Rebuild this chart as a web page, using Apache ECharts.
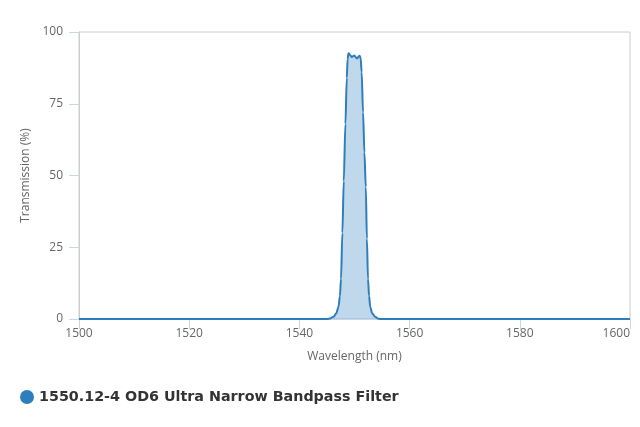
<!DOCTYPE html>
<html><head><meta charset="utf-8">
<script src="https://cdn.jsdelivr.net/npm/echarts@6/dist/echarts.min.js"></script>
<style>html,body{margin:0;padding:0;background:#fff}#c{width:640px;height:427px}</style>
</head><body><div id="c"></div>
<script>
var seriesName = '1550.12-4 OD6 Ultra Narrow Bandpass Filter';
var wavelengths = [1500, 1544, 1545, 1545.6, 1546.2, 1546.7, 1547.1, 1547.35, 1547.55, 1547.8, 1548.05, 1548.35, 1548.6, 1548.75, 1548.9, 1549.2, 1549.5, 1549.95, 1550.45, 1550.9, 1551.1, 1551.3, 1551.55, 1551.8, 1552.05, 1552.25, 1552.45, 1552.65, 1552.85, 1553.2, 1553.75, 1554.2, 1554.7, 1600];
var transmission = [0, 0, 0, 0.2, 0.8, 2, 4.3, 8, 14, 30, 48, 68, 84, 90.5, 92.6, 92.0, 91.3, 91.8, 90.8, 91.7, 91.2, 86, 72, 58, 46, 28, 14, 8, 4.3, 2, 0.8, 0.2, 0, 0];
var xTicks = [1500, 1520, 1540, 1560, 1580, 1600];
var yTicks = [0, 25, 50, 75, 100];

var data = wavelengths.map(function (w, i) { return [w, transmission[i]]; });
var chart = echarts.init(document.getElementById('c'));
chart.setOption({
  animation: false,
  textStyle: { fontFamily: 'Open Sans' },
  grid: { left: 79, right: 10, top: 32, bottom: 108, show: true, borderColor: '#cccccc', borderWidth: 1, backgroundColor: 'transparent' },
  legend: {
    left: 15, top: 385, icon: 'circle', itemWidth: 14, itemHeight: 14, itemGap: 6,
    textStyle: { fontFamily: 'DejaVu Sans', fontWeight: 'bold', fontSize: 14.3, color: '#333333' },
    data: [seriesName]
  },
  xAxis: {
    type: 'value', min: xTicks[0], max: xTicks[xTicks.length - 1], interval: 20,
    name: 'Wavelength (nm)', nameLocation: 'middle', nameGap: 32,
    nameTextStyle: { color: '#666666', fontSize: 12 },
    axisLine: { show: true, lineStyle: { color: '#ccd6eb' } },
    axisTick: { show: true, length: 10, lineStyle: { color: '#ccd6eb' } },
    axisLabel: { color: '#666666', fontSize: 12, margin: 9,
      formatter: function (v) { return xTicks.indexOf(v) >= 0 ? String(v) : ''; },
      alignMaxLabel: 'right' },
    splitLine: { show: false }
  },
  yAxis: {
    type: 'value', min: yTicks[0], max: yTicks[yTicks.length - 1], interval: 25,
    name: 'Transmission (%)', nameLocation: 'middle', nameGap: 45, nameRotate: 90,
    nameTextStyle: { color: '#666666', fontSize: 12 },
    axisLine: { show: true, lineStyle: { color: '#cccccc' } },
    axisTick: { show: true, length: 10, lineStyle: { color: '#ccd6eb' } },
    axisLabel: { color: '#666666', fontSize: 12, margin: 16 },
    splitLine: { show: false }
  },
  series: [{
    name: seriesName, type: 'line', data: data, showSymbol: false, symbol: 'circle',
    smooth: 0.3, smoothMonotone: 'x',
    itemStyle: { color: '#2f7ebc' },
    lineStyle: { color: '#2f7ebc', width: 2 },
    areaStyle: { color: '#2f7ebc', opacity: 0.3 }
  }]
});
</script></body></html>
